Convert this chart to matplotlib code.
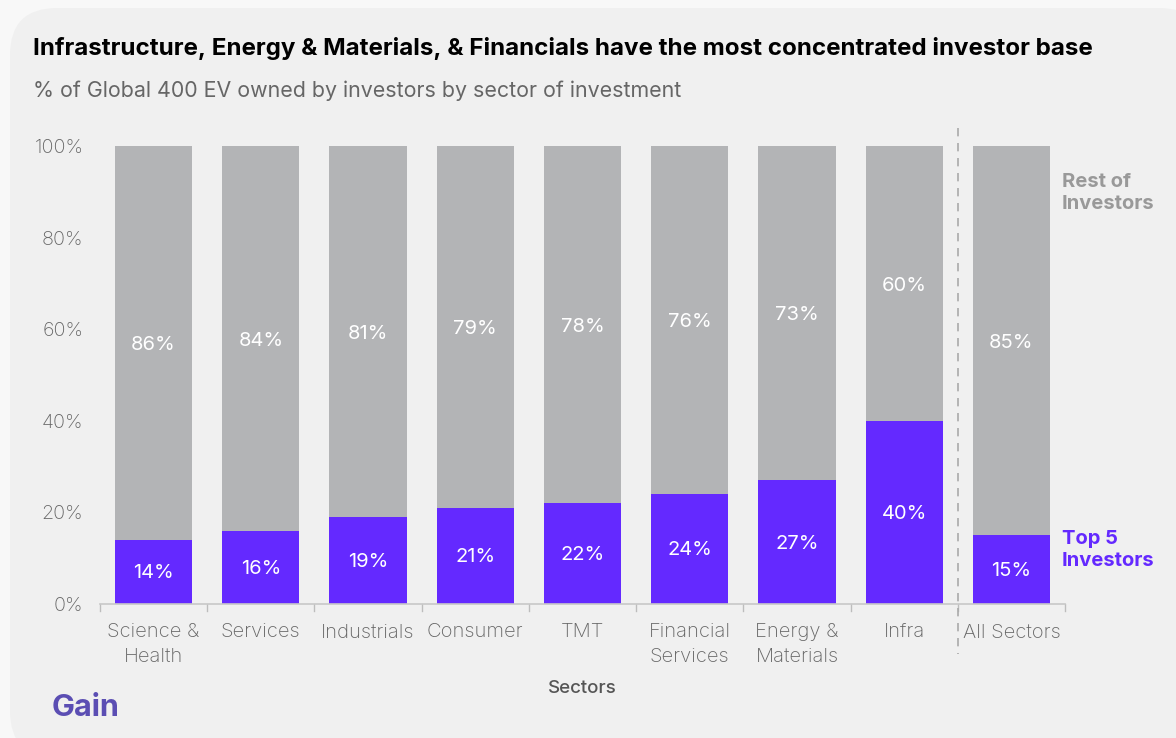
import matplotlib.pyplot as plt
from matplotlib.patches import FancyBboxPatch
from matplotlib.lines import Line2D

sectors = ["Science &\nHealth", "Services", "Industrials", "Consumer", "TMT",
           "Financial\nServices", "Energy &\nMaterials", "Infra", "All Sectors"]
top5 = [14, 16, 19, 21, 22, 24, 27, 40, 15]
rest = [86, 84, 81, 79, 78, 76, 73, 60, 85]
yticks = [0, 20, 40, 60, 80, 100]

purple = "#6429ff"
grey_bar = "#b3b4b6"
card = "#f0f0f0"

plt.rcParams["font.family"] = ["Inter", "DejaVu Sans"]

W, H = 1176, 738
fig = plt.figure(figsize=(W / 100, H / 100), dpi=100)
fig.patch.set_facecolor("#f8f8f8")

# rounded card behind everything
bg = FancyBboxPatch((10 / W, -20 / H), (W + 20) / W, (H - 8 + 20) / H,
                    boxstyle="round,pad=0,rounding_size=0.04",
                    transform=fig.transFigure, facecolor=card, edgecolor="none",
                    mutation_aspect=W / H, zorder=-5)
fig.patches.append(bg)

ax = fig.add_axes([100 / W, 1 - 604 / H, 965 / W, 458 / H])
ax.set_facecolor("none")

x = list(range(len(sectors)))
ax.bar(x, top5, width=0.72, color=purple, zorder=2)
ax.bar(x, rest, width=0.72, bottom=top5, color=grey_bar, zorder=2)

for i in x:
    ax.text(i, top5[i] / 2 - 0.3, f"{top5[i]}%", ha="center", va="center",
            color="white", fontsize=14.5, zorder=3)
    ax.text(i, top5[i] + rest[i] / 2 - 0.5, f"{rest[i]}%", ha="center", va="center",
            color="white", fontsize=14.5, zorder=3)

ax.set_xlim(-0.5, len(sectors) - 0.5)
ax.set_ylim(0, 100)
ax.set_yticks(yticks)
ax.set_yticklabels([f"{v}%" for v in yticks], color="#666666", fontsize=14.2,
                   fontweight="light")
ax.set_xticks(x)
ax.set_xticklabels(sectors, color="#666666", fontsize=14.5, fontweight="light",
                   linespacing=1.45)
ax.tick_params(axis="y", length=0, pad=12)
ax.tick_params(axis="x", length=0, pad=14)

# category separators along the baseline
for b in [i - 0.5 for i in range(len(sectors) + 1)]:
    ax.plot([b, b], [0, -1.6], color="#bdbdbd", lw=1, clip_on=False, zorder=1)

for s in ["top", "right", "left"]:
    ax.spines[s].set_visible(False)
ax.spines["bottom"].set_color("#c8c8c8")
ax.spines["bottom"].set_linewidth(1.2)

ax.set_xlabel("Sectors", color="#555555", fontsize=13.5, fontweight="medium",
              labelpad=10)

# dashed divider before the total column
ax.add_line(Line2D([7.5, 7.5], [104, -11], color="#aaaaaa", lw=1.2,
                   linestyle=(0, (5, 4)), clip_on=False, zorder=1))

# series labels on the right
ax.text(8.47, 89.7, "Rest of\nInvestors", ha="left", va="center", color="#999999",
        fontsize=14.5, fontweight="bold", linespacing=1.3)
ax.text(8.47, 11.8, "Top 5\nInvestors", ha="left", va="center", color=purple,
        fontsize=14.5, fontweight="bold", linespacing=1.3)

fig.text(33 / W, 1 - 48 / H, "Infrastructure, Energy & Materials, & Financials have the most concentrated investor base",
         ha="left", va="center", fontsize=17.4, fontweight="bold", color="black")
fig.text(33 / W, 1 - 91 / H, "% of Global 400 EV owned by investors by sector of investment",
         ha="left", va="center", fontsize=15.4, color="#666666")
fig.text(52 / W, 1 - 708 / H, "Gain", ha="left", va="center", fontsize=22,
         fontweight="bold", color="#5b4eb3")

fig.savefig("out.png", dpi=100, facecolor=fig.get_facecolor())
